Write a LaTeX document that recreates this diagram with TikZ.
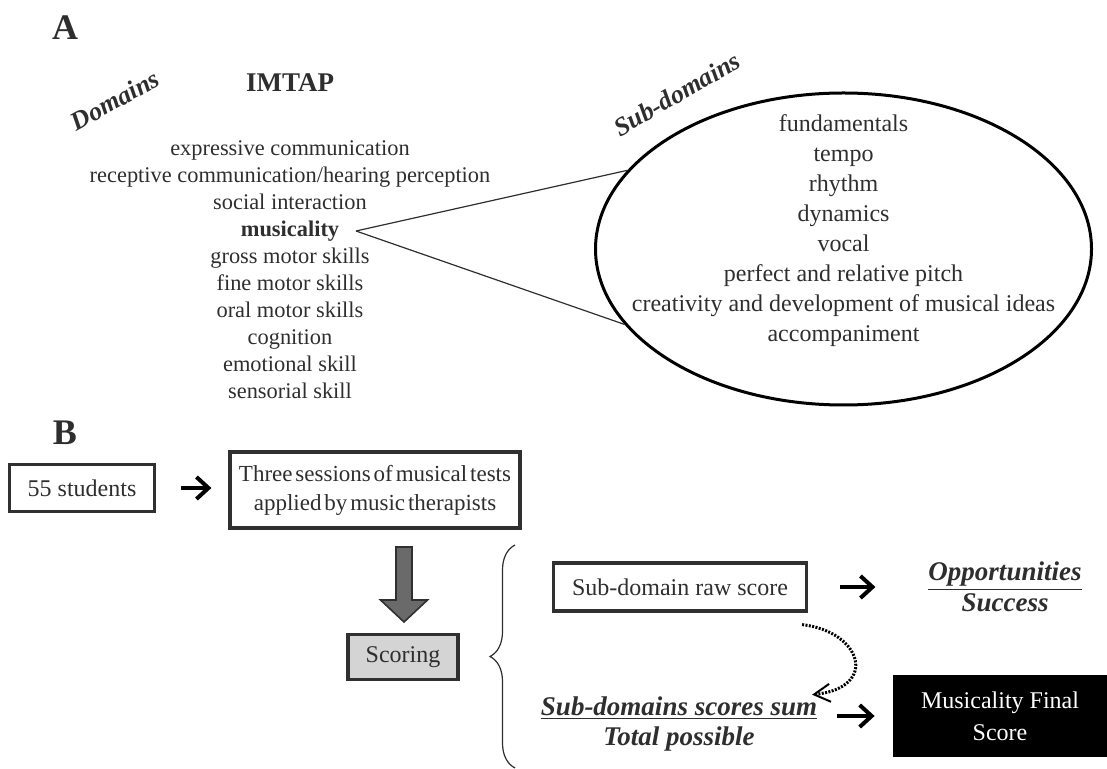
\documentclass[tikz,border=0pt]{standalone}
\usepackage{fontspec}
\setmainfont{Liberation Serif}
\newfontfamily\tightfont{Liberation Serif}[WordSpace=0.5]
\usepackage{tikz}
\usetikzlibrary{shapes,arrows.meta,decorations.pathreplacing,calc}
\definecolor{ink}{HTML}{2E2E2E}
\definecolor{frame}{HTML}{303030}
\definecolor{lightgris}{HTML}{D4D4D4}
\definecolor{darkgris}{HTML}{6A6A6A}

\begin{document}
\begin{tikzpicture}[x=0.5pt,y=-0.5pt,
  every node/.style={text=ink},
  box/.style={draw=frame,line width=1.6pt,inner sep=0pt,align=center},
  flow/.style={-{Straight Barb[length=6pt,width=11pt]},line width=2pt,black}]

  \useasboundingbox (0,0) rectangle (1107,769);

  % part A
  \coordinate (M) at (356,231);
  \coordinate (FA) at (404,547);

  \node[font=\bfseries\fontsize{18}{20}\selectfont] at (65,28) (labA) {A};
  \node[
    font=\bfseries\itshape\fontsize{13}{15}\selectfont,
    rotate=29] at (115,100) (dom) {Domains};
  \node[font=\bfseries\fontsize{13.5}{16}\selectfont] at (290,83) (imtap) {IMTAP};
  \node[
    align=center,
    font=\fontsize{11.2}{13.5}\selectfont] at (290,270) (list)
    {expressive communication\\
     receptive communication/hearing perception\\
     social interaction\\
     \textbf{musicality}\\
     gross motor skills\\
     fine motor skills\\
     oral motor skills\\
     cognition\\
     emotional skill\\
     sensorial skill};

  \node[
    ellipse,
    draw=black,
    line width=1.5pt,
    inner sep=0pt,
    minimum width=248pt,
    minimum height=156pt] at (843.5,249) (sub) {};
  \node[
    align=center,
    font=\fontsize{12}{15}\selectfont] at (843.5,231) (sublist)
    {fundamentals\\
     tempo\\
     rhythm\\
     dynamics\\
     vocal\\
     perfect and relative pitch\\
     creativity and development of musical ideas\\
     accompaniment};
  \node[
    font=\bfseries\itshape\fontsize{13}{15}\selectfont,
    inner sep=1pt,
    rotate=30] at (677,94) (subt) {Sub-domains};

  \draw[line width=0.6pt,ink] (M) -- (sub.160.5);
  \draw[line width=0.6pt,ink] (M) -- (sub.199.5);

  % part B
  \node[font=\bfseries\fontsize{18}{20}\selectfont] at (65,433) (labB) {B};
  \node[
    box,
    minimum width=72.5pt,
    minimum height=23.5pt,
    font=\fontsize{12}{14}\selectfont] at (82,488) (stud) {55 students};
  \node[
    box,
    minimum width=145pt,
    minimum height=38pt,
    font=\tightfont\fontsize{11.5}{14.5}\selectfont] at (375,490) (sess)
    {Three sessions of musical tests\\applied by music therapists};
  \node[
    box,
    fill=lightgris,
    minimum width=55pt,
    minimum height=22.5pt,
    font=\fontsize{12}{14}\selectfont] at (403,657) (scor) {Scoring};
  \node[
    box,
    minimum width=126.5pt,
    minimum height=24pt,
    font=\fontsize{12}{14}\selectfont] at (680,587) (raw) {Sub-domain raw score};
  \node[
    align=center,
    font=\bfseries\itshape\fontsize{13.5}{15.5}\selectfont] at (1005,587) (opp)
    {\underline{Opportunities}\\Success};
  \node[
    align=center,
    font=\bfseries\itshape\fontsize{13.5}{15}\selectfont] at (679,724) (sum)
    {\underline{Sub-domains scores sum}\\Total possible};
  \node[
    fill=black,
    text=white,
    inner sep=0pt,
    minimum width=107pt,
    minimum height=41pt,
    align=center,
    font=\fontsize{12}{16}\selectfont] at (1000,716) (final)
    {Musicality Final\\Score};

  \draw[flow,shorten <=12.5pt,shorten >=8.5pt] (stud.east) -- (stud.east -| sess.west);
  \draw[flow,shorten <=16pt,shorten >=23pt] (raw.east) -- (raw.east -| opp.west);
  \draw[flow,shorten <=6.5pt,shorten >=9pt] (final.west -| sum.east) -- (final.west);

  \draw[
    line width=1.5pt,
    dash pattern=on 1pt off 0.7pt,
    -{Straight Barb[length=8pt,width=9pt,line width=1pt]}]
    ([xshift=-3pt,yshift=-6pt]raw.south east) .. controls +(60,7) and +(67,-7) ..
    ([xshift=-6pt,yshift=-2.5pt]sum.north east);

  \draw[fill=darkgris,draw=frame,line width=0.8pt]
    (FA) ++(-8,0) -- ++(0,53) -- ++(-15.5,0) -- ++(23.5,22)
    -- ++(23.5,-22) -- ++(-15.5,0) -- ++(0,-53) -- cycle;

  \draw[decorate,decoration={brace,amplitude=12.5pt},line width=0.6pt,ink]
    (515,768) -- (515,545);

\end{tikzpicture}
\end{document}
